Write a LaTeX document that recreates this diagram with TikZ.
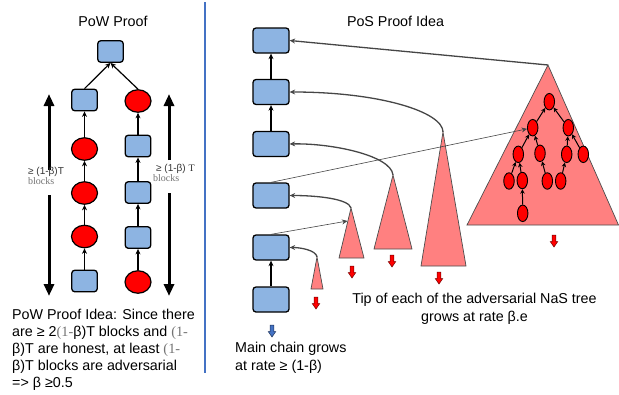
\documentclass[tikz,border=0pt]{standalone}
\usepackage{fontspec}
\setmainfont{Liberation Sans}
\newfontfamily\serifz{Liberation Serif}
\usetikzlibrary{arrows.meta,shapes.geometric}
\definecolor{boxblue}{RGB}{141,180,226}
\definecolor{pinkt}{RGB}{255,128,128}
\definecolor{sepblue}{RGB}{68,114,196}
\definecolor{curvegray}{RGB}{70,70,70}
\newcommand\dnarr[3]{%
  \filldraw[fill=#3,draw=black!55!#3,line width=0.5pt] (#1-1.8,#2) -- (#1+1.8,#2) -- (#1+1.8,#2+6.5) -- (#1+3.8,#2+6.5) -- (#1,#2+12) -- (#1-3.8,#2+6.5) -- (#1-1.8,#2+6.5) -- cycle;}
\begin{document}
\begin{tikzpicture}[x=1pt,y=-1pt,
  bbox/.style={draw=black,line width=1.3pt,fill=boxblue,rounded corners=3pt,minimum width=25.5pt,minimum height=21.5pt,inner sep=0pt},
  pbox/.style={bbox,minimum width=36pt,minimum height=25pt},
  rcirc/.style={ellipse,draw=black,line width=1.2pt,fill=red,minimum width=26pt,minimum height=22.5pt,inner sep=0pt},
  tnode/.style={ellipse,draw=black,line width=0.9pt,fill=red,minimum width=10.5pt,minimum height=16.5pt,inner sep=0pt},
  chainarr/.style={-{Stealth[length=5.5pt,width=5pt]},line width=1.2pt},
  treearr/.style={-{Stealth[length=4.5pt,width=4.5pt]},line width=1pt},
  curvearr/.style={-{Stealth[length=5.5pt,width=5pt]},draw=curvegray,line width=1.3pt},
  thinarr/.style={-{Stealth[length=5.5pt,width=5pt]},draw=curvegray,line width=0.6pt},
  bigarr/.style={line width=3pt,-{Triangle[length=12pt,width=10pt]}},
  tri/.style={fill=pinkt,draw=black!70,line width=0.7pt},
  txt/.style={font=\fontsize{14.3}{17}\selectfont,inner sep=0pt},
  small/.style={font=\fontsize{10}{12}\selectfont,inner sep=0pt}
]
\useasboundingbox (0,0) rectangle (619,394);

% ---------- left panel ----------
\node[txt,anchor=base] (powtitle) at (113,26) {PoW Proof};
\node[bbox] (top) at (110.5,51.5) {};
\node[bbox] (l1) at (84.5,100) {};
\node[rcirc] (l2) at (84.5,149) {};
\node[rcirc] (l3) at (84.5,193) {};
\node[rcirc] (l4) at (84.5,236.5) {};
\node[bbox] (l5) at (84.5,281) {};
\node[rcirc] (r1) at (138,101) {};
\node[bbox] (r2) at (138,146) {};
\node[bbox] (r3) at (138,192.5) {};
\node[bbox] (r4) at (138,237.5) {};
\node[rcirc] (r5) at (138,282) {};
\draw[chainarr] (l5) -- (l4);
\draw[chainarr] (l4) -- (l3);
\draw[chainarr] (l3) -- (l2);
\draw[chainarr] (l2) -- (l1);
\draw[chainarr] (r5) -- (r4);
\draw[chainarr] (r4) -- (r3);
\draw[chainarr] (r3) -- (r2);
\draw[chainarr] (r2) -- (r1);
\draw[chainarr] (l1.north) -- (top.south);
\draw[chainarr] (r1.north) -- (top.south);

\coordinate (la1) at (49,170);
\coordinate (la2) at (49,94);
\coordinate (la3) at (49,195);
\coordinate (la4) at (49,296);
\coordinate (ra1) at (169,160);
\coordinate (ra2) at (169,94);
\coordinate (ra3) at (169,193);
\coordinate (ra4) at (169,296);
\draw[bigarr] (la1) -- (la2);
\draw[bigarr] (la3) -- (la4);
\draw[bigarr] (ra1) -- (ra2);
\draw[bigarr] (ra3) -- (ra4);

\node[small,anchor=base west,text=black!80] (lab1) at (28,174) {≥ (1-β)T};
\node[small,anchor=base west,text=black!55] (lab2) at (28,184.5) {\serifz blocks};
\node[small,anchor=base west,text=black!80] (lab3) at (156,171) {≥ (1-β) {\serifz T}};
\node[small,anchor=base west,text=black!55] (lab4) at (153,181.5) {\serifz blocks};

\node[txt,anchor=base west] (pw1) at (12,319.5) {PoW Proof Idea: Since there};
\node[txt,anchor=base west] (pw2) at (12,336.5) {are ≥ 2{\serifz\color{black!55}(1-}β)T blocks and {\serifz\color{black!55}(1-}};
\node[txt,anchor=base west] (pw3) at (12,353.5) {β)T are honest, at least {\serifz\color{black!55}(1-}};
\node[txt,anchor=base west] (pw4) at (12,370.5) {β)T blocks are adversarial};
\node[txt,anchor=base west] (pw5) at (12,387.5) {=> β ≥0.5};

% separator
\draw[sepblue,line width=2pt] (205,2) -- (205,373);

% ---------- right panel ----------
\node[txt,anchor=base] (postitle) at (395.5,26) {PoS Proof Idea};

% triangles
\coordinate (t1) at (317,257);
\coordinate (t2) at (351,208);
\coordinate (t3) at (393,175);
\coordinate (t4) at (443,132);
\coordinate (t5) at (548,65);
\draw[tri] (t1) -- (311,289) -- (323,289) -- cycle;
\draw[tri] (t2) -- (339,258) -- (364,258) -- cycle;
\draw[tri] (t3) -- (374,249) -- (412,249) -- cycle;
\draw[tri] (t4) -- (421,266) -- (466,266) -- cycle;
\draw[tri] (t5) -- (467,225) -- (618.5,225) -- cycle;

% main chain
\node[pbox] (b1) at (271,40.5) {};
\node[pbox] (b2) at (271,92) {};
\node[pbox] (b3) at (271,144) {};
\node[pbox] (b4) at (271,195.5) {};
\node[pbox] (b5) at (271,247.5) {};
\node[pbox] (b6) at (271,299.5) {};
\draw[chainarr] (b6) -- (b5);
\draw[chainarr] (b3) -- (b2);
\draw[chainarr] (b2) -- (b1);

% tree in big triangle
\node[tnode] (n0) at (549.3,101.7) {};
\node[tnode] (n1) at (532.7,127.7) {};
\node[tnode] (n2) at (568.3,127.7) {};
\node[tnode] (n3) at (518.3,154.3) {};
\node[tnode] (n4) at (540,153.3) {};
\node[tnode] (n5) at (566.7,154.3) {};
\node[tnode] (n6) at (583.3,154.3) {};
\node[tnode] (n7) at (509,181) {};
\node[tnode] (n8) at (522.3,180.5) {};
\node[tnode] (n9) at (547.3,181) {};
\node[tnode] (n10) at (560.7,181) {};
\node[tnode] (n11) at (522.7,213.3) {};
\draw[treearr] (n1) -- (n0);
\draw[treearr] (n2) -- (n0);
\draw[treearr] (n3) -- (n1);
\draw[treearr] (n4) -- (n1);
\draw[treearr] (n5) -- (n2);
\draw[treearr] (n6) -- (n2);
\draw[treearr] (n7) -- (n3);
\draw[treearr] (n8) -- (n3);
\draw[treearr] (n9) -- (n4);
\draw[treearr] (n10) -- (n5);
\draw[treearr] (n11) -- (n8);

% curves from tips to main chain
\draw[curvearr] (t5) -- (b1.east);
\draw[curvearr] (t4) .. controls (443,112) and (380,92) .. (b2.east);
\draw[curvearr] (t3) .. controls (391,155) and (330,143) .. (b3.east);
\draw[curvearr] (t2) .. controls (349,199) and (318,195.5) .. (b4.east);
\draw[curvearr] (t1) .. controls (316,250) and (300,247.5) .. (b5.east);

% thin lines
\coordinate (t2side) at (347.5,221);
\draw[thinarr] (b5.north) -- (t2side);
\draw[thinarr] (b4.north) -- (n1);

% small down arrows
\dnarr{316}{297}{red}
\dnarr{352}{266}{red}
\dnarr{392}{255}{red}
\dnarr{439}{272}{red}
\dnarr{554}{235}{red}
\dnarr{272}{325}{sepblue}

% texts
\node[txt,anchor=base west] (mc1) at (235,352.5) {Main chain grows};
\node[txt,anchor=base west] (mc2) at (235,370.5) {at rate ≥ (1-β)};
\node[txt,anchor=base] (tip1) at (474.5,303.5) {Tip of each of the adversarial NaS tree};
\node[txt,anchor=base] (tip2) at (474.5,321) {grows at rate β.e};
\end{tikzpicture}
\end{document}
